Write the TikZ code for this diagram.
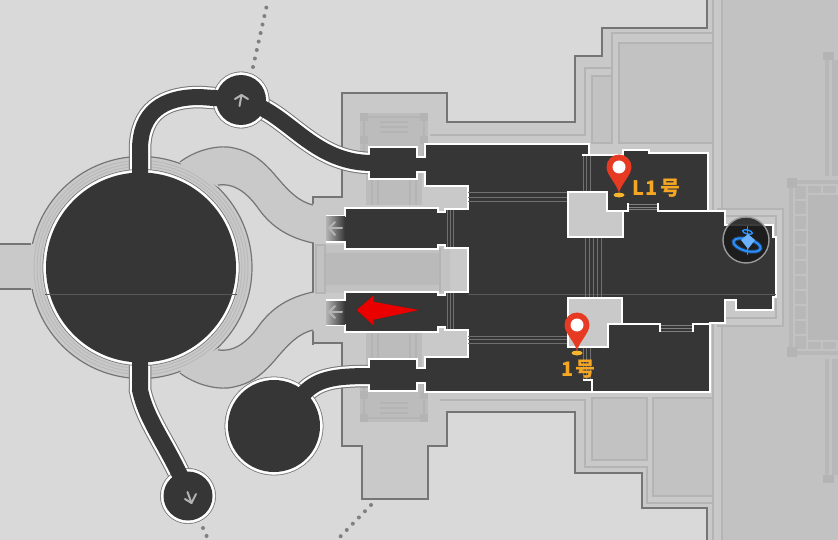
\documentclass[tikz,border=0pt]{standalone}
\usepackage{xcolor}
\usepackage{fontspec}
\newfontfamily\cjk{Noto Sans CJK SC}
\usetikzlibrary{calc}
\definecolor{mapbg}{HTML}{D9D9D9}
\definecolor{terrace}{HTML}{C9C9C9}
\definecolor{paving}{HTML}{C2C2C2}
\definecolor{trim}{HTML}{B4B4B4}
\definecolor{cellgrey}{HTML}{B8B8B8}
\definecolor{edgeline}{HTML}{757575}
\definecolor{floorblack}{HTML}{363636}
\definecolor{stairgrey}{HTML}{707070}
\definecolor{pinred}{HTML}{E63A22}
\definecolor{pinbase}{HTML}{F5B62D}
\definecolor{labelorange}{HTML}{F5A623}
\definecolor{glowblue}{HTML}{2A90FF}
\tikzset{
  outline/.style={draw=edgeline, line width=1.2},
  trimline/.style={draw=trim, line width=1.6},
  panel/.style={fill=paving, draw=trim, line width=1.6},
  wall/.style={draw=white, line width=2.6, line join=miter},
  stairline/.style={draw=stairgrey, line width=1},
  chevron/.style={draw=#1, line width=2, line cap=round, line join=round},
  pathdots/.style={draw=gray, line width=4, line cap=round, dash pattern=on 0pt off 8.7pt},
  pinlabel/.style={text=labelorange, font=\cjk\bfseries\fontsize{20}{20}\selectfont, inner sep=0pt},
}
\newcommand{\roadlines}[2]{
  \draw[line width=#1, draw=#2] (hubW) -- (140,150) .. controls (140,112) and (163,97) .. (200,97) -- (hubN);
  \draw[line width=#1, draw=#2] (hubN) -- (262,108) .. controls (295,125) and (320,163) .. (372,163);
  \draw[line width=#1, draw=#2] (hubW) -- (140,390) .. controls (146,418) and (162,438) .. (180,475) -- (hubS);
  \draw[line width=#1, draw=#2] (hubB) -- (300,398) .. controls (315,378) and (335,376) .. (372,376);
}
\begin{document}
\begin{tikzpicture}[x=1pt,y=-1pt]
  \useasboundingbox (0,0) rectangle (838,540);
  \fill[mapbg] (0,0) rectangle (838,540);
  \coordinate (hubW) at (141,267.5);
  \coordinate (hubN) at (241,100);
  \coordinate (hubS) at (188,496);
  \coordinate (hubB) at (274,426);
  \coordinate (pinA) at (619,167);
  \coordinate (pinB) at (577,325);

  % terrace
  \fill[terrace] (342,93) -- (447,93) -- (447,122) -- (575,122) -- (575,56) -- (602,56) -- (602,28) -- (707,28) -- (707,0) -- (838,0) -- (838,540) -- (707,540) -- (707,508) -- (642,508) -- (642,473) -- (575,473) -- (575,412) -- (447,412) -- (447,446) -- (428,446) -- (428,499) -- (362,499) -- (362,446) -- (342,446) -- (342,343) -- (313,343) -- (313,197) -- (342,197) -- cycle;
  \draw[outline] (313,345) -- (313,197) -- (342,197) -- (342,93) -- (447,93) -- (447,122) -- (575,122) -- (575,56) -- (602,56) -- (602,28) -- (707,28) -- (707,0);
  \draw[outline] (707,540) -- (707,508) -- (642,508) -- (642,473) -- (575,473) -- (575,412) -- (447,412) -- (447,446) -- (428,446) -- (428,499) -- (362,499) -- (362,446) -- (342,446) -- (342,343) -- (313,343);
  \fill[paving] (722,0) rectangle (838,540);

  % panels on the right
  \draw[trimline] (430,135) -- (585,135) -- (585,68) -- (612,68);
  \draw[trimline] (612,143) -- (612,33) -- (713,33);
  \draw[panel] (619,43) rectangle (713,143);
  \draw[panel] (592,143) -- (592,76) -- (612,76) -- (612,143) -- cycle;
  \draw[trimline] (440,400) -- (585,400) -- (585,467) -- (647,467) -- (647,503) -- (713,503);
  \draw[panel] (592,398) rectangle (647,460);
  \draw[panel] (653,398) rectangle (713,496);
  \fill[terrace] (713,0) rectangle (722,540);
  \foreach \i in {713,722} {
    \draw[trimline] (\i,0) -- (\i,540);
  }
  \fill[terrace] (717,209) rectangle (783,326);
  \draw[trimline] (717,209) -- (783,209) -- (783,326) -- (717,326);
  \draw[trimline] (723,216) -- (776,216) -- (776,318) -- (723,318);

  % outer building, mirrored
  \foreach \f/\s in {1/0,-1/535} {
    \begin{scope}[shift={(0,\s)},yscale=\f]
      \fill[cellgrey] (789,180) rectangle (838,267.5);
      \fill[paving] (793,184) rectangle (838,267.5);
      \fill[cellgrey] (808,195) rectangle (838,267.5);
      \foreach \i in {0,1,2,3,4,5} {
        \fill[cellgrey] (795,186+\i*15) rectangle (806,199+\i*15);
      }
      \foreach \i in {808,823} {
        \fill[cellgrey] (\i,186) rectangle (\i+13,193);
      }
      \fill[trim] (787,178) rectangle (797,188);
      \fill[trim] (823,52) rectangle (834,60);
      \fill[cellgrey] (825,60) rectangle (829,176);
      \fill[cellgrey] (832,60) rectangle (838,176);
    \end{scope}
  }

  % ring and west stub
  \draw[outline, fill=terrace] (hubW) circle(111);
  \fill[terrace] (0,244) rectangle (36,289);
  \draw[outline] (0,244) -- (31,244);
  \draw[outline] (0,289) -- (31,289);

  % curved roads and gate, mirrored
  \foreach \f/\s in {1/0,-1/535} {
    \begin{scope}[shift={(0,\s)},yscale=\f]
      \fill[terrace] (180,164) .. controls (196,150) and (215,146) .. (228,147) .. controls (250,150) and (262,160) .. (275,175) .. controls (290,193) and (300,202) .. (318,205) -- (318,243) .. controls (290,240) and (272,228) .. (258,208) .. controls (245,190) and (232,183) .. (218,187) -- cycle;
      \draw[outline] (180,162) .. controls (196,150) and (215,146) .. (228,147) .. controls (250,150) and (262,160) .. (275,175) .. controls (290,193) and (300,202) .. (313,205);
      \draw[outline] (313,243) .. controls (290,238) and (272,228) .. (258,208) .. controls (245,190) and (232,183) .. (218,185);
      % gate
      \fill[trim!60!terrace] (360,113) rectangle (428,160);
      \draw[trimline] (364,117) rectangle (424,160);
      \foreach \i in {360,420} {
        \fill[trim] (\i,113) rectangle (\i+8,121);
        \fill[trim] (\i,136) rectangle (\i+8,144);
      }
      \foreach \i in {122,127,132} {
        \draw[trim, line width=1.4] (380,\i) -- (408,\i);
      }
      \fill[trim!60!terrace] (366,160) rectangle (422,205);
      \foreach \i in {372,378,410,416} {
        \draw[trim, line width=1.2] (\i,170) -- (\i,205);
      }
    \end{scope}
  }
  \foreach \i in {101,104,107} {
    \draw[trim!70!terrace, line width=1] (hubW) circle(\i);
  }

  % central block
  \fill[paving] (316,245) rectangle (468,293);
  \fill[trim!70!terrace] (325,253) rectangle (440,285);
  \fill[terrace] (450,248) rectangle (468,293);
  \draw[trimline] (316,245) rectangle (325,293);
  \draw[trimline] (440,248) -- (440,292);
  % light blocks by the hall
  \fill[terrace] (428,187) rectangle (468,209);
  \fill[terrace] (428,330) rectangle (468,357);

  % road edges
  \roadlines{22.5}{edgeline}
  \roadlines{20.5}{white}
  \foreach \a/\r in {hubW/95,hubN/25,hubS/24.5,hubB/46} {
    \draw[edgeline, fill=edgeline] (\a) circle(\r+3.2);
    \draw[white, fill=white] (\a) circle(\r+2.4);
  }

  % hall floor
  \draw[wall, fill=floorblack] (369,147) -- (417,147) -- (417,157) -- (425,157) -- (425,144) -- (589,144) -- (589,155) -- (623,155) -- (623,150) -- (649,150) -- (649,153) -- (708,153) -- (708,211) -- (725,211) -- (725,225) -- (737,225) -- (773,225) -- (773,237) -- (776,237) -- (776,297) -- (773,297) -- (773,310) -- (736,310) -- (736,300) -- (725,300) -- (725,323) -- (710,323) -- (710,392) -- (425,392) -- (425,383) -- (417,383) -- (417,391) -- (369,391) -- (369,359) -- (417,359) -- (417,368) -- (425,368) -- (425,357) -- (468,357) -- (468,330) -- (445,330) -- (445,327) -- (438,327) -- (438,332) -- (345,332) -- (345,325) -- (327,325) -- (327,300) -- (345,300) -- (345,292) -- (438,292) -- (438,295) -- (445,295) -- (445,292) -- (468,292) -- (468,248) -- (445,248) -- (445,245) -- (438,245) -- (438,249) -- (345,249) -- (345,242) -- (327,242) -- (327,216) -- (345,216) -- (345,208) -- (438,208) -- (438,212) -- (445,212) -- (445,209) -- (468,209) -- (468,186) -- (425,186) -- (425,172) -- (417,172) -- (417,179) -- (369,179) -- cycle;
  % door fades
  \shade[left color=trim, right color=floorblack] (326,217) rectangle (345,241);
  \shade[left color=trim, right color=floorblack] (326,301) rectangle (345,324);
  \fill[terrace] (324,214) rectangle (326.3,244);
  \fill[terrace] (324,298) rectangle (326.3,327);
  \draw[chevron=trim] (335,222) -- (329,228) -- (335,235);
  \draw[chevron=trim] (329,228) -- (342,228);
  \draw[chevron=trim] (335,306) -- (329,312) -- (335,318);
  \draw[chevron=trim] (329,312) -- (342,312);

  % roads and round floors
  \roadlines{16}{floorblack}
  \foreach \a/\r in {hubW/95,hubN/25,hubS/24.5,hubB/46} {
    \fill[floorblack] (\a) circle(\r);
  }
  \draw[chevron=trim] (235,99) -- (241.5,95) -- (248,99);
  \draw[chevron=trim] (241.5,95) -- (239.5,106);
  \draw[chevron=trim] (185,499) -- (191.5,503) -- (196,494);
  \draw[chevron=trim] (191.5,503) -- (187.5,492);
  \draw[stairgrey!60!floorblack, line width=.6] (45,294) -- (237,294);
  \draw[stairgrey!60!floorblack, line width=.6] (468,294) -- (776,294);

  % stairs
  \foreach \i in {193,197.5,202} {
    \draw[stairline] (468,\i) -- (568,\i);
  }
  \foreach \i in {336,339.5,343} {
    \draw[stairline] (468,\i) -- (568,\i);
  }
  \foreach \i in {583,586.5,590} {
    \draw[stairline] (\i,156) -- (\i,192);
    \draw[stairline] (\i,347) -- (\i,380);
  }
  \foreach \i in {585,589,593,597,601} {
    \draw[stairline] (\i,237) -- (\i,298);
  }
  \foreach \i in {447,450,453} {
    \draw[stairline] (\i,210) -- (\i,247);
    \draw[stairline] (\i,293) -- (\i,329);
  }
  \foreach \i in {205,207.5,210} {
    \draw[stairline, draw=gray] (628,\i) -- (658,\i);
  }
  \foreach \i in {325.5,328,331} {
    \draw[stairline, draw=gray] (660,\i) -- (693,\i);
  }

  % light squares and inner walls
  \draw[wall, fill=terrace] (568,192) -- (607,192) -- (607,211) -- (623,211) -- (623,237) -- (568,237) -- cycle;
  \draw[wall, fill=terrace] (568,298) -- (622,298) -- (622,324) -- (608,324) -- (608,347) -- (568,347) -- cycle;
  \draw[wall] (607,211) -- (628,211) -- (628,203);
  \draw[wall] (658,203) -- (658,211) -- (708,211);
  \draw[wall] (622,324) -- (660,324) -- (660,332);
  \draw[wall] (693,332) -- (693,324) -- (710,324);
  \draw[wall] (582,155) -- (589,155);
  \draw[wall] (583,380) -- (592,380) -- (592,392);

  % dotted trails
  \coordinate (trailA) at (268,0);
  \coordinate (trailB) at (207,537);
  \coordinate (trailC) at (371,505);
  \coordinate (trailD) at (337,540);
  \draw[pathdots] (253,67) -- (trailA);
  \draw[pathdots] (203,528) -- (trailB);
  \draw[pathdots] (trailC) -- (trailD);

  % red arrow
  \draw[fill=red!92!black, draw=black!80, line width=.6, line join=miter] (356,310) -- (374,294.5) -- (374,301.5) -- (421,310) -- (374,320) -- (374,326.5) -- cycle;

  % teleport icon
  \fill[black!90, opacity=.85] (746,240) circle(23);
  \draw[gray!80!white, line width=1.4] (746,240) circle(23);
  \draw[glowblue, opacity=.35, line width=4, rotate around={-15:(747,245)}] (747,245) ellipse (14 and 6);
  \draw[glowblue, line width=2, rotate around={-15:(747,245)}] (747,245) ellipse (14 and 6);
  \draw[glowblue, line width=1.8] (747.5,226) -- (747.5,255);
  \draw[glowblue, line width=1.4, rotate around={-15:(747.5,232)}] (747.5,232) ellipse (5 and 2);
  \fill[glowblue!70!white] (748,234) -- (755,240) -- (748,249) -- (741,240) -- cycle;

  % pins
  \foreach \a in {pinA,pinB} {
    \fill[pinbase] ($(\a)+(0,28)$) ellipse (5.5 and 2.4);
    \fill[pinred] ($(\a)+(0,26)$) .. controls ($(\a)+(-2,17)$) and ($(\a)+(-12.5,8)$) .. ($(\a)+(-12.5,0)$) arc(180:360:12.5) .. controls ($(\a)+(12.5,8)$) and ($(\a)+(2,17)$) .. ($(\a)+(0,26)$) -- cycle;
    \fill[white] (\a) circle(6.5);
  }
  \node[pinlabel, anchor=west] (labelA) at (632.5,188.5) {L\kern1pt1\kern2.5pt 号};
  \node[pinlabel, anchor=west] (labelB) at (561,369) {1\kern2.5pt 号};
\end{tikzpicture}
\end{document}
